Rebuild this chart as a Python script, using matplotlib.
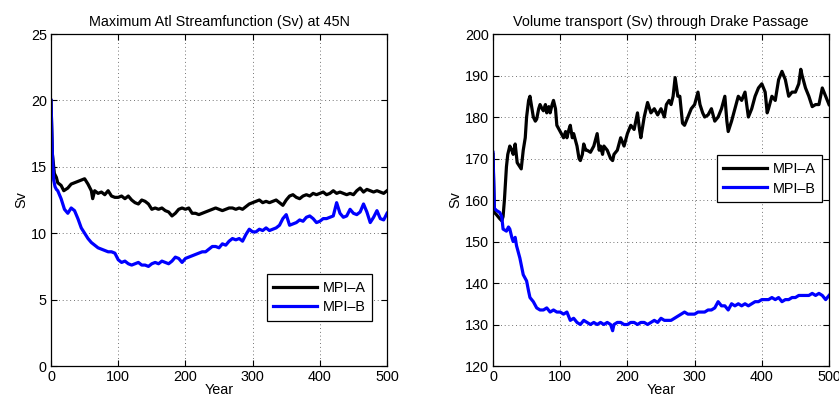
import matplotlib
matplotlib.use('Agg')
import matplotlib.pyplot as plt

plt.rcParams['font.family'] = ['Liberation Sans', 'DejaVu Sans']
plt.rcParams['font.size'] = 10.4

# Maximum Atlantic streamfunction at 45N (Sv)
amoc_a_year = [0, 2, 5, 8, 10, 15, 19, 25, 30, 35, 40, 45, 50, 55, 60, 62, 65, 70, 75, 80,
               85, 90, 95, 100, 105, 110, 115, 120, 125, 130, 135, 140, 145, 150, 155, 160,
               165, 170, 175, 180, 185, 190, 195, 200, 205, 210, 215, 220, 225, 230, 235,
               240, 245, 250, 255, 260, 265, 270, 275, 280, 285, 290, 295, 300, 305, 310,
               315, 320, 325, 330, 335, 340, 345, 350, 355, 360, 365, 370, 375, 380, 385,
               390, 395, 400, 405, 410, 415, 420, 425, 430, 435, 440, 445, 450, 455, 460,
               465, 470, 475, 480, 485, 490, 495, 500]
amoc_a = [20.0, 16.0, 14.5, 14.2, 13.8, 13.6, 13.2, 13.4, 13.7, 13.8, 13.9, 14.0, 14.1, 13.7,
          13.2, 12.6, 13.2, 13.0, 13.1, 12.9, 13.2, 12.8, 12.7, 12.7, 12.8, 12.6, 12.8, 12.5,
          12.3, 12.2, 12.5, 12.4, 12.2, 11.8, 11.9, 11.8, 11.9, 11.7, 11.6, 11.3, 11.5, 11.8,
          11.9, 11.8, 11.9, 11.5, 11.5, 11.4, 11.5, 11.6, 11.7, 11.8, 11.9, 11.8, 11.7, 11.8,
          11.9, 11.9, 11.8, 11.9, 11.8, 12.0, 12.2, 12.3, 12.4, 12.5, 12.3, 12.4, 12.3, 12.4,
          12.5, 12.3, 12.1, 12.5, 12.8, 12.9, 12.7, 12.6, 12.8, 12.9, 12.8, 13.0, 12.9, 13.0,
          13.1, 12.9, 13.0, 13.2, 13.0, 13.1, 13.0, 12.9, 13.0, 12.9, 13.2, 13.4, 13.1, 13.3,
          13.2, 13.1, 13.2, 13.1, 13.0, 13.2]

amoc_b_year = [0, 2, 4, 6, 8, 10, 15, 20, 25, 30, 35, 40, 45, 50, 55, 60, 65, 70, 75, 80, 85,
               90, 95, 100, 105, 110, 115, 120, 125, 130, 135, 140, 145, 150, 155, 160, 165,
               170, 175, 180, 185, 190, 195, 200, 205, 210, 215, 220, 225, 230, 235, 240,
               245, 250, 255, 260, 265, 270, 275, 280, 285, 290, 295, 300, 305, 310, 315,
               320, 325, 330, 335, 340, 345, 350, 355, 360, 365, 370, 375, 380, 385, 390,
               395, 400, 405, 410, 415, 420, 425, 430, 435, 440, 445, 450, 455, 460, 465,
               470, 475, 480, 485, 490, 495, 500]
amoc_b = [20.0, 16.0, 14.0, 13.5, 13.3, 13.2, 12.6, 11.8, 11.5, 11.9, 11.7, 11.1, 10.4, 10.0,
          9.6, 9.3, 9.1, 8.9, 8.8, 8.7, 8.6, 8.6, 8.5, 8.0, 7.8, 7.9, 7.7, 7.6, 7.7, 7.8, 7.6,
          7.6, 7.5, 7.7, 7.8, 7.7, 7.9, 7.8, 7.7, 7.9, 8.2, 8.1, 7.8, 8.1, 8.2, 8.3, 8.4, 8.5,
          8.6, 8.6, 8.8, 9.0, 9.0, 8.9, 9.2, 9.1, 9.4, 9.6, 9.5, 9.6, 9.4, 9.9, 10.3, 10.1,
          10.1, 10.3, 10.2, 10.4, 10.2, 10.3, 10.4, 10.6, 11.1, 11.4, 10.6, 10.7, 10.8, 11.0,
          10.9, 11.2, 11.3, 11.1, 10.8, 10.9, 11.1, 11.1, 11.2, 11.3, 12.3, 11.5, 11.2, 11.3,
          11.8, 11.5, 11.4, 11.6, 12.2, 11.6, 10.8, 11.2, 11.7, 11.1, 11.0, 11.5]

# Drake Passage volume transport (Sv)
drake_a_year = [0, 2, 5, 10, 13, 15, 17, 20, 22, 25, 28, 30, 33, 36, 40, 42, 45, 48, 50, 53,
                55, 57, 60, 63, 65, 68, 70, 73, 75, 78, 80, 83, 85, 88, 90, 93, 95, 100, 105,
                108, 110, 113, 115, 118, 120, 125, 128, 130, 133, 135, 138, 140, 145, 150,
                155, 158, 160, 163, 165, 170, 175, 178, 180, 185, 190, 195, 200, 205, 210,
                215, 218, 220, 225, 230, 235, 240, 245, 250, 255, 258, 262, 265, 268, 271,
                275, 278, 282, 285, 290, 295, 300, 305, 308, 312, 315, 320, 325, 330, 335,
                340, 345, 348, 350, 355, 360, 365, 370, 375, 380, 385, 390, 395, 400, 405,
                408, 410, 415, 420, 425, 430, 435, 440, 445, 450, 455, 458, 460, 465, 470,
                475, 480, 485, 490, 495, 500]
drake_a = [171.0, 157.0, 156.5, 155.5, 155.0, 156.0, 160.0, 168.0, 171.0, 173.0, 172.0, 171.0,
           173.5, 169.0, 168.0, 167.5, 172.0, 175.0, 180.0, 184.0, 185.0, 183.0, 180.0, 179.0,
           179.5, 182.0, 183.0, 182.0, 181.5, 183.0, 181.0, 182.5, 181.0, 183.0, 184.0, 182.0,
           178.0, 176.5, 175.0, 176.5, 175.0, 177.0, 178.0, 175.0, 176.0, 173.0, 170.0, 169.5,
           171.0, 173.5, 172.0, 172.0, 171.5, 173.0, 176.0, 172.0, 173.0, 171.0, 173.0, 172.0,
           170.0, 169.5, 171.0, 172.0, 175.0, 173.0, 176.0, 178.0, 177.0, 181.0, 177.0, 175.0,
           180.0, 183.5, 181.0, 182.0, 180.5, 182.0, 180.0, 183.0, 184.0, 183.0, 185.0, 189.5,
           185.0, 185.0, 178.5, 178.0, 180.0, 182.0, 183.0, 186.0, 183.0, 181.0, 180.0, 180.5,
           182.0, 179.0, 180.0, 182.0, 185.0, 179.0, 176.5, 179.0, 182.0, 185.0, 184.0, 186.0,
           180.0, 182.0, 185.0, 187.0, 188.0, 186.0, 181.0, 182.0, 185.0, 184.0, 189.0, 191.0,
           189.0, 185.0, 186.0, 186.0, 188.0, 191.5, 190.0, 187.0, 185.0, 182.5, 183.0, 183.0,
           187.0, 185.0, 183.0]

drake_b_year = [0, 1, 2, 5, 10, 13, 15, 20, 23, 25, 28, 30, 33, 35, 40, 45, 50, 53, 55, 60,
                65, 70, 75, 80, 85, 90, 95, 100, 105, 110, 115, 120, 125, 130, 135, 140, 145,
                150, 155, 160, 165, 170, 175, 178, 180, 185, 190, 195, 200, 205, 210, 215,
                220, 225, 230, 235, 240, 245, 250, 255, 260, 265, 270, 275, 280, 285, 290,
                295, 300, 305, 310, 315, 320, 325, 330, 335, 340, 345, 350, 355, 360, 365,
                370, 375, 380, 385, 390, 395, 400, 405, 410, 415, 420, 425, 430, 435, 440,
                445, 450, 455, 460, 465, 470, 475, 480, 485, 490, 495, 500]
drake_b = [171.5, 165.0, 158.0, 157.5, 157.0, 156.0, 153.0, 152.5, 153.5, 153.0, 151.0, 150.0,
           151.0, 149.0, 146.0, 142.0, 140.5, 138.0, 136.5, 135.5, 134.0, 133.5, 133.5, 134.0,
           133.0, 133.5, 133.0, 133.0, 132.5, 133.0, 131.0, 131.5, 130.5, 130.0, 131.0, 130.5,
           130.0, 130.5, 130.0, 130.5, 130.0, 130.5, 130.0, 128.5, 130.0, 130.5, 130.5, 130.0,
           130.0, 130.5, 130.5, 130.0, 130.5, 130.5, 130.0, 130.5, 131.0, 130.5, 131.5, 131.0,
           131.0, 131.0, 131.5, 132.0, 132.5, 133.0, 132.5, 132.5, 132.5, 133.0, 133.0, 133.0,
           133.5, 133.5, 134.0, 135.5, 134.5, 134.5, 133.5, 135.0, 134.5, 135.0, 134.5, 135.0,
           134.5, 135.0, 135.5, 135.5, 136.0, 136.0, 136.0, 136.5, 136.0, 136.5, 135.5, 136.0,
           136.0, 136.5, 136.5, 137.0, 137.0, 137.0, 137.0, 137.5, 137.0, 137.5, 137.0, 136.0,
           137.0]

labels = ['MPI\u2013A', 'MPI\u2013B']

fig = plt.figure(figsize=(8.39, 4.03), dpi=100)
ax1 = fig.add_axes([0.0608, 0.0918, 0.4005, 0.8238])
ax2 = fig.add_axes([0.5876, 0.0918, 0.4005, 0.8238])


def style(ax, ylim, yticks, title):
    ax.set_xlim(0, 500)
    ax.set_ylim(*ylim)
    ax.set_xticks([0, 100, 200, 300, 400, 500])
    ax.set_yticks(yticks)
    ax.grid(True, linestyle=(0, (1, 3.5)), color='#444444', linewidth=0.6)
    ax.tick_params(direction='in', top=True, right=True, length=4, width=0.8,
                   labelsize=10.4, pad=3)
    for s in ax.spines.values():
        s.set_linewidth(0.9)
    ax.set_title(title, fontsize=10.4, pad=6)
    ax.set_xlabel('Year', fontsize=10.4, labelpad=-1)
    ax.set_ylabel('Sv', fontsize=10.4, labelpad=2)


ax1.plot(amoc_a_year, amoc_a, color='black', lw=2.3, label=labels[0])
ax1.plot(amoc_b_year, amoc_b, color='blue', lw=2.3, label=labels[1])
style(ax1, (0, 25), [0, 5, 10, 15, 20, 25], 'Maximum Atl Streamfunction (Sv) at 45N')
leg1 = ax1.legend(loc='lower right', bbox_to_anchor=(0.955, 0.136), fancybox=False,
                  edgecolor='black', handlelength=3.0, fontsize=10.4, borderpad=0.45,
                  labelspacing=0.4, handletextpad=0.4, borderaxespad=0, framealpha=1)
leg1.get_frame().set_linewidth(0.9)

ax2.plot(drake_a_year, drake_a, color='black', lw=2.3, label=labels[0])
ax2.plot(drake_b_year, drake_b, color='blue', lw=2.3, label=labels[1])
style(ax2, (120, 200), [120, 130, 140, 150, 160, 170, 180, 190, 200],
      'Volume transport (Sv) through Drake Passage')
leg2 = ax2.legend(loc='lower right', bbox_to_anchor=(0.979, 0.494), fancybox=False,
                  edgecolor='black', handlelength=3.0, fontsize=10.4, borderpad=0.45,
                  labelspacing=0.4, handletextpad=0.4, borderaxespad=0, framealpha=1)
leg2.get_frame().set_linewidth(0.9)

fig.savefig('out.png', dpi=100)
